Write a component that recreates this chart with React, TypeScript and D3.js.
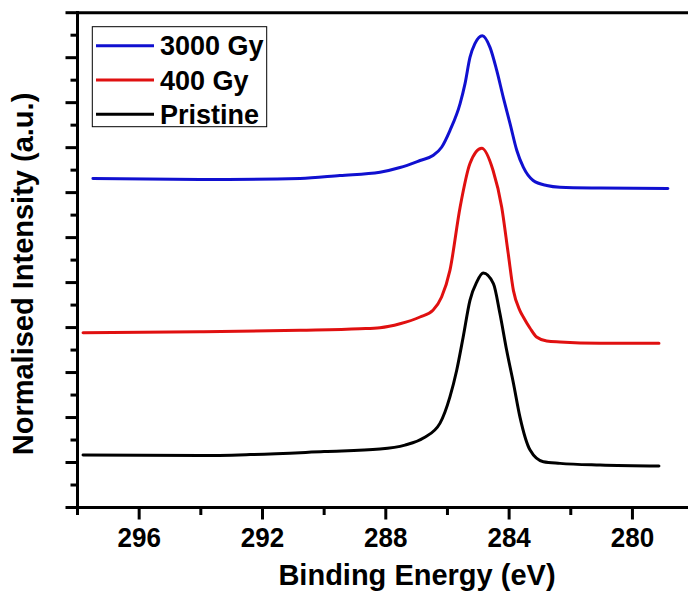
import React from "react";
import * as d3 from "d3";

// Binding energy (eV) / normalised intensity (a.u., offset stacked)
const pristineE = [297.82, 294.03, 292.40, 290.00, 288.19, 287.38, 286.78, 286.24, 285.92, 285.70, 285.49, 285.27, 285.05, 284.84, 284.51, 284.30, 284.08, 283.86, 283.65, 283.32, 282.89, 282.35, 281.05, 279.14];
const pristineI = [1.165, 1.154, 1.176, 1.243, 1.299, 1.387, 1.543, 1.876, 2.459, 3.052, 3.791, 4.606, 5.012, 5.212, 4.977, 4.318, 3.496, 2.764, 2.016, 1.276, 1.017, 0.981, 0.943, 0.921];

const gy400E = [297.82, 294.03, 290.78, 288.84, 288.19, 287.54, 286.89, 286.47, 286.19, 285.92, 285.59, 285.27, 284.89, 284.52, 284.24, 284.03, 283.86, 283.65, 283.54, 283.32, 283.11, 282.78, 282.35, 281.05, 279.14];
const gy400I = [3.885, 3.907, 3.940, 3.973, 3.996, 4.084, 4.235, 4.384, 4.679, 5.272, 6.677, 7.647, 7.987, 7.492, 6.677, 5.649, 4.822, 4.378, 4.235, 3.985, 3.791, 3.703, 3.680, 3.652, 3.652];

const gy3000E = [297.50, 294.03, 290.78, 289.49, 288.19, 287.54, 286.89, 286.47, 286.19, 285.92, 285.59, 285.43, 285.27, 285.11, 284.87, 284.62, 284.40, 284.19, 283.97, 283.75, 283.54, 283.22, 282.78, 282.35, 281.05, 278.85];
const gy3000I = [7.314, 7.292, 7.314, 7.381, 7.454, 7.558, 7.714, 7.825, 8.009, 8.380, 8.979, 9.423, 10.007, 10.311, 10.488, 10.229, 9.711, 9.119, 8.535, 7.936, 7.565, 7.270, 7.159, 7.121, 7.103, 7.092];

const seriesNames = ["3000 Gy", "400 Gy", "Pristine"];
const seriesColors = ["#1010d0", "#e01010", "#000000"];
const xMajorTicks = [296, 292, 288, 284, 280];
const xMinorTicks = [298, 294, 290, 286, 282, 278];
const xDomain = [298, 278];
const yDomain = [0, 11];
const xTitle = "Binding Energy (eV)";
const yTitle = "Normalised Intensity (a.u.)";

const FONT = "'Liberation Sans', Arial, sans-serif";

export default function App() {
  const W = 688, H = 592;
  const x = d3.scaleLinear().domain(xDomain).range([77.5, 694.1]);
  const y = d3.scaleLinear().domain(yDomain).range([507.5, 12.7]);

  const series = [
    { E: gy3000E, I: gy3000I },
    { E: gy400E, I: gy400I },
    { E: pristineE, I: pristineI },
  ];
  const line = d3
    .line<[number, number]>()
    .x((d) => x(d[0]))
    .y((d) => y(d[1]))
    .curve(d3.curveMonotoneX);

  const yMajor = d3.range(yDomain[0], yDomain[1] + 0.01, 1);
  const yMinor = d3.range(yDomain[0] + 0.5, yDomain[1], 1);

  const x0 = x(xDomain[0]);
  const x1 = x(xDomain[1]);
  const y0 = y(yDomain[0]);
  const y1 = y(yDomain[1]);

  return (
    <svg width={W} height={H} style={{ position: "absolute", left: 0, top: 0, background: "#fff" }}>
      <rect x={0} y={0} width={W} height={H} fill="#fff" />
      {/* curves */}
      {series.map((s, i) => (
        <path
          key={i}
          d={line(s.E.map((e, k) => [e, s.I[k]] as [number, number])) || ""}
          fill="none"
          stroke={seriesColors[i]}
          strokeWidth={3}
          strokeLinejoin="round"
          strokeLinecap="round"
        />
      ))}
      {/* frame */}
      <g stroke="#000" strokeWidth={3} strokeLinecap="square">
        <line x1={x0} x2={x0} y1={y1} y2={y0} />
        <line x1={x0} x2={x1} y1={y0} y2={y0} />
        <line x1={x0} x2={x1} y1={y1} y2={y1} />
        <line x1={x1} x2={x1} y1={y1} y2={y0} />
        {yMajor.map((v) => (
          <line key={"ym" + v} x1={x0 - 10.5} x2={x0} y1={y(v)} y2={y(v)} />
        ))}
        {yMinor.map((v) => (
          <line key={"yn" + v} x1={x0 - 5.5} x2={x0} y1={y(v)} y2={y(v)} />
        ))}
        {xMajorTicks.map((v) => (
          <line key={"xm" + v} x1={x(v)} x2={x(v)} y1={y0} y2={y0 + 10.5} />
        ))}
        {xMinorTicks.map((v) => (
          <line key={"xn" + v} x1={x(v)} x2={x(v)} y1={y0} y2={y0 + 6} />
        ))}
      </g>
      {/* tick labels */}
      <g fontFamily={FONT} fontWeight="bold" fontSize={28} textAnchor="middle" fill="#000">
        {xMajorTicks.map((v) => (
          <text key={"xl" + v} transform={`translate(${x(v)},546.7) scale(0.93,1)`}>
            {v}
          </text>
        ))}
      </g>
      {/* axis titles */}
      <text x={417} y={585} fontFamily={FONT} fontWeight="bold" fontSize={29} textAnchor="middle" fill="#000">
        {xTitle}
      </text>
      <text
        transform="translate(33.3,274) rotate(-90)"
        fontFamily={FONT}
        fontWeight="bold"
        fontSize={29}
        textAnchor="middle"
        fill="#000"
      >
        {yTitle}
      </text>
      {/* legend */}
      <rect x={92.3} y={26.7} width={174.4} height={100} fill="#fff" stroke="#000" strokeWidth={1} />
      {seriesNames.map((n, i) => {
        const ly = 45.7 + i * 34.3;
        return (
          <g key={n}>
            <line x1={96} x2={154} y1={ly} y2={ly} stroke={seriesColors[i]} strokeWidth={3} />
            <text x={160} y={ly + 9.6} fontFamily={FONT} fontWeight="bold" fontSize={27} fill="#000">
              {n}
            </text>
          </g>
        );
      })}
    </svg>
  );
}
